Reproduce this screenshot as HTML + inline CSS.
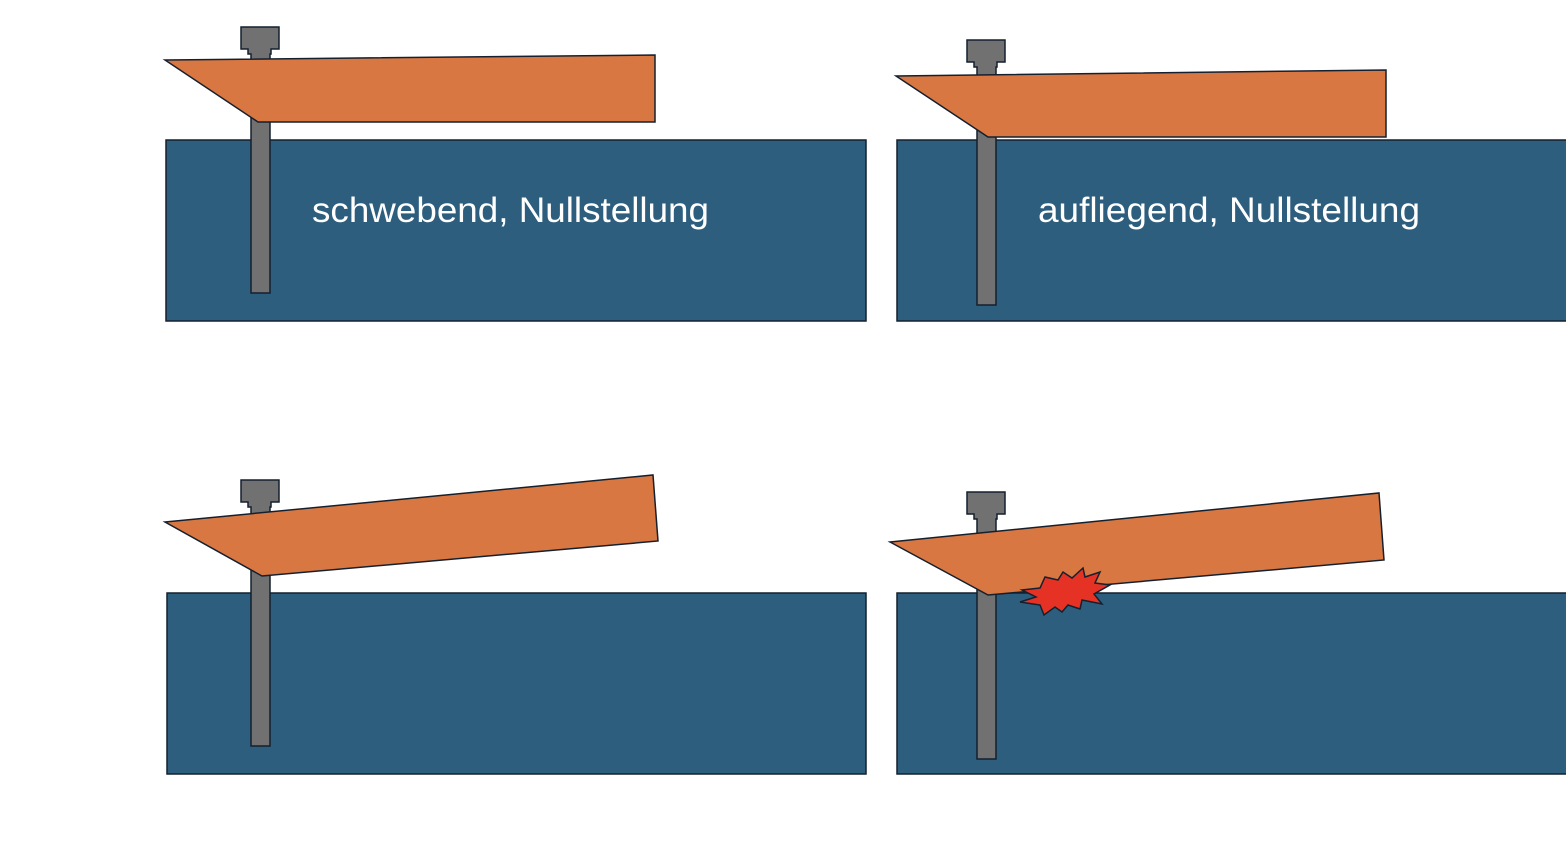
<!DOCTYPE html>
<html><head><style>body{margin:0;background:#fff}svg{display:block}</style></head><body>
<svg width="1566" height="868" viewBox="0 0 1566 868" xmlns="http://www.w3.org/2000/svg">
<g stroke="#14202e" stroke-width="1.5">
<rect x="166" y="140" width="700" height="181" fill="#2e5e7e"/>
<rect x="897" y="140" width="670" height="181" fill="#2e5e7e"/>
<rect x="167" y="593" width="699" height="181" fill="#2e5e7e"/>
<rect x="897" y="593" width="670" height="181" fill="#2e5e7e"/>
<g fill="#717171">
<path d="M241,27H279V49H271V54H270V293H251V54H248V49H241Z"/>
<path d="M967,40H1005V62H997V67H996V305H977V67H974V62H967Z"/>
<path d="M241,480H279V502H271V507H270V746H251V507H248V502H241Z"/>
<path d="M967,492H1005V514H997V519H996V759H977V519H974V514H967Z"/>
</g>
<g fill="#d87742">
<polygon points="165,60 655,55 655,122 258,122"/>
<polygon points="896,76 1386,70 1386,137 988,137"/>
<polygon points="165,522 653,475 658,541 262,576"/>
<polygon points="890,542 1379,493 1384,560 988,595"/>
</g>
<polygon fill="#e53224" points="1040,588 1022,590 1036,597 1020,602 1040,605 1044,615 1055,607 1062,612 1068,605 1080,609 1082,600 1102,604 1094,594 1110,585 1095,583 1100,572 1085,577 1083,568 1072,578 1063,572 1058,580 1045,577"/>
</g>
<g fill="#fff" font-family="Liberation Sans, sans-serif" font-size="35">
<text x="312" y="222" textLength="397" lengthAdjust="spacingAndGlyphs">schwebend, Nullstellung</text>
<text x="1038" y="222" textLength="382" lengthAdjust="spacingAndGlyphs">aufliegend, Nullstellung</text>
</g>
</svg>
</body></html>
